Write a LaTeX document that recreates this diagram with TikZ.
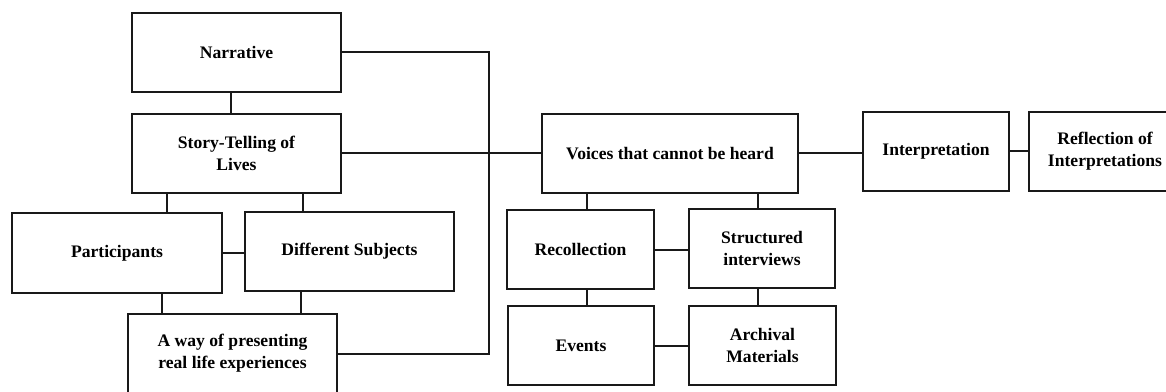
\documentclass[tikz,border=0pt]{standalone}
\usepackage{fontspec}
\setmainfont{Liberation Serif}
\usetikzlibrary{calc}
\begin{document}
\begin{tikzpicture}[x=0.75pt,y=-0.75pt,
  box/.style={draw=black!90,line width=1.6pt,fill=white,rectangle,inner sep=0pt,
    align=center,font=\fontsize{13.2pt}{16.7pt}\selectfont\bfseries},
  link/.style={draw=black!90,line width=1.5pt}]
\useasboundingbox (0,0) rectangle (1166,392);
\clip (0,0) rectangle (1166,392);
% nodes
\node[box,minimum width=209*0.75pt,minimum height=79*0.75pt] (nar) at (236.5,52.5) {Narrative};
\node[box,minimum width=209*0.75pt,minimum height=79*0.75pt] (sto) at (236.5,153.5) {Story-Telling of\\Lives};
\node[box,minimum width=210*0.75pt,minimum height=80*0.75pt] (par) at (117,253) {Participants};
\node[box,minimum width=209*0.75pt,minimum height=79*0.75pt] (dif) at (349.5,251.5) {Different Subjects};
\node[box,minimum width=209*0.75pt,minimum height=79*0.75pt] (way) at (232.5,353.5) {A way of presenting\\real life experiences};
\node[box,minimum width=256*0.75pt,minimum height=79*0.75pt] (voi) at (670,153.5) {Voices that cannot be heard};
\node[box,minimum width=146*0.75pt,minimum height=79*0.75pt] (int) at (936,151.5) {Interpretation};
\node[box,minimum width=152*0.75pt,minimum height=79*0.75pt] (ref) at (1105,151.5) {Reflection of\\Interpretations};
\node[box,minimum width=147*0.75pt,minimum height=79*0.75pt] (rec) at (580.5,249.5) {Recollection};
\node[box,minimum width=146*0.75pt,minimum height=79*0.75pt] (str) at (762,248.5) {Structured\\interviews};
\node[box,minimum width=146*0.75pt,minimum height=79*0.75pt] (eve) at (581,345.5) {Events};
\node[box,minimum width=147*0.75pt,minimum height=79*0.75pt] (arc) at (762.5,345.5) {Archival\\Materials};
% x positions of vertical links
\coordinate (xa) at (231,0);
\coordinate (xb) at (167,0);
\coordinate (xc) at (303,0);
\coordinate (xd) at (162,0);
\coordinate (xe) at (301,0);
\coordinate (xr) at (489,0);
\coordinate (xf) at (587,0);
\coordinate (xg) at (758,0);
% links
\draw[link] (nar.south -| xa) -- (sto.north -| xa);
\draw[link] (sto.south -| xb) -- (par.north -| xb);
\draw[link] (sto.south -| xc) -- (dif.north -| xc);
\draw[link] (par.east) -- (par.east -| dif.west);
\draw[link] (par.south -| xd) -- (way.north -| xd);
\draw[link] (dif.south -| xe) -- (way.north -| xe);
\draw[link] (way.east) -- (way.east -| xr) -- (nar.east -| xr) -- (nar.east);
\draw[link] (sto.east) -- (voi.west);
\draw[link] (voi.east) -- (voi.east -| int.west);
\draw[link] (int.east) -- (int.east -| ref.west);
\draw[link] (voi.south -| xf) -- (rec.north -| xf);
\draw[link] (voi.south -| xg) -- (str.north -| xg);
\draw[link] (rec.east) -- (rec.east -| str.west);
\draw[link] (rec.south -| xf) -- (eve.north -| xf);
\draw[link] (str.south -| xg) -- (arc.north -| xg);
\draw[link] (eve.east) -- (eve.east -| arc.west);
\end{tikzpicture}
\end{document}
